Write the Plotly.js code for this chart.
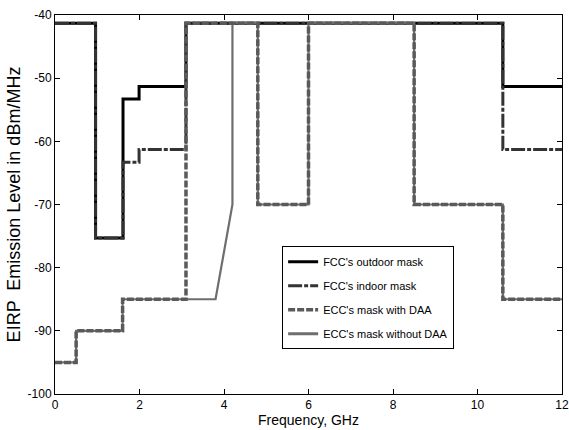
<!DOCTYPE html>
<html>
<head>
<meta charset="utf-8">
<script src="https://cdn.plot.ly/plotly-3.0.1.min.js"></script>
<style>html,body{margin:0;padding:0;background:#fff;}#chart{width:569px;height:430px;}</style>
</head>
<body>
<div id="chart"></div>
<script>
// Band edges (GHz) and levels (dBm/MHz), step held from each edge to the next
var fccEdges = [0, 0.96, 1.61, 1.99, 3.1, 10.6, 12];
var fccOutdoor = [-41.3, -75.3, -53.3, -51.3, -41.3, -51.3, -51.3];
var fccIndoor = [-41.3, -75.3, -63.3, -61.3, -41.3, -61.3, -61.3];

var eccDaaEdges = [0, 0.5, 1.6, 3.1, 4.8, 6, 8.5, 10.6, 12];
var eccDaa = [-95, -90, -85, -41.3, -70, -41.3, -70, -85, -85];

// Without DAA: vertex list (includes a sloped segment 3.8 -> 4.2 GHz)
var eccNoDaaX = [0, 0.5, 0.5, 1.6, 1.6, 3.8, 4.2, 4.2, 4.8, 4.8, 6, 6, 8.5, 8.5, 10.6, 10.6, 12];
var eccNoDaaY = [-95, -95, -90, -90, -85, -85, -70, -41.3, -41.3, -70, -70, -41.3, -41.3, -70, -70, -85, -85];

var xTicks = [0, 2, 4, 6, 8, 10, 12];
var yTicks = [-100, -90, -80, -70, -60, -50, -40];

var FONT = 'Liberation Sans, Arial, sans-serif';

var traces = [
  {x: fccEdges, y: fccOutdoor, name: "FCC's outdoor mask", mode: 'lines', legendgroup: 'a',
   line: {shape: 'hv', color: '#000000', width: 3}},
  {x: fccEdges, y: fccIndoor, name: "FCC's indoor mask", mode: 'lines', legendgroup: 'b',
   line: {shape: 'hv', color: '#333333', width: 3, dash: '14px,2px,4px,2px'}},
  {x: eccNoDaaX, y: eccNoDaaY, name: "ECC's mask without DAA", mode: 'lines', legendgroup: 'd',
   line: {color: '#6e6e6e', width: 2.2}, showlegend: false},
  {x: eccDaaEdges, y: eccDaa, name: "ECC's mask with DAA", mode: 'lines', legendgroup: 'c',
   line: {shape: 'hv', color: '#5a5a5a', width: 3.5, dash: '7px,2px'}},
  {x: [null], y: [null], name: "ECC's mask without DAA", mode: 'lines', legendgroup: 'd',
   line: {color: '#6e6e6e', width: 3}}
];

var axisCommon = {
  showline: true, linecolor: '#000', linewidth: 1, mirror: 'ticks',
  ticks: 'inside', ticklen: 5, tickcolor: '#000', tickwidth: 1,
  showgrid: false, zeroline: false,
  tickfont: {family: FONT, size: 12, color: '#000'}
};

var layout = {
  width: 569, height: 430,
  margin: {l: 55, r: 7, t: 15, b: 36},
  paper_bgcolor: '#fff', plot_bgcolor: '#fff',
  showlegend: true,
  legend: {
    x: 0.448, y: 0.39, xanchor: 'left', yanchor: 'top',
    bgcolor: '#fff', bordercolor: '#000', borderwidth: 1,
    traceorder: 'grouped', tracegroupgap: 5,
    font: {family: FONT, size: 11, color: '#000'}
  },
  xaxis: Object.assign({}, axisCommon, {
    range: [0, 12], tickvals: xTicks, ticktext: xTicks.map(String),
    title: {text: 'Frequency, GHz', standoff: 2,
            font: {family: FONT, size: 14, color: '#000'}}
  }),
  yaxis: Object.assign({}, axisCommon, {
    range: [-100, -40], tickvals: yTicks, ticktext: yTicks.map(String),
    title: {text: 'EIRP  Emission Level in dBm/MHz', standoff: 2,
            font: {family: FONT, size: 18, color: '#000'}}
  })
};

Plotly.newPlot('chart', traces, layout, {displayModeBar: false, staticPlot: true});
</script>
</body>
</html>
